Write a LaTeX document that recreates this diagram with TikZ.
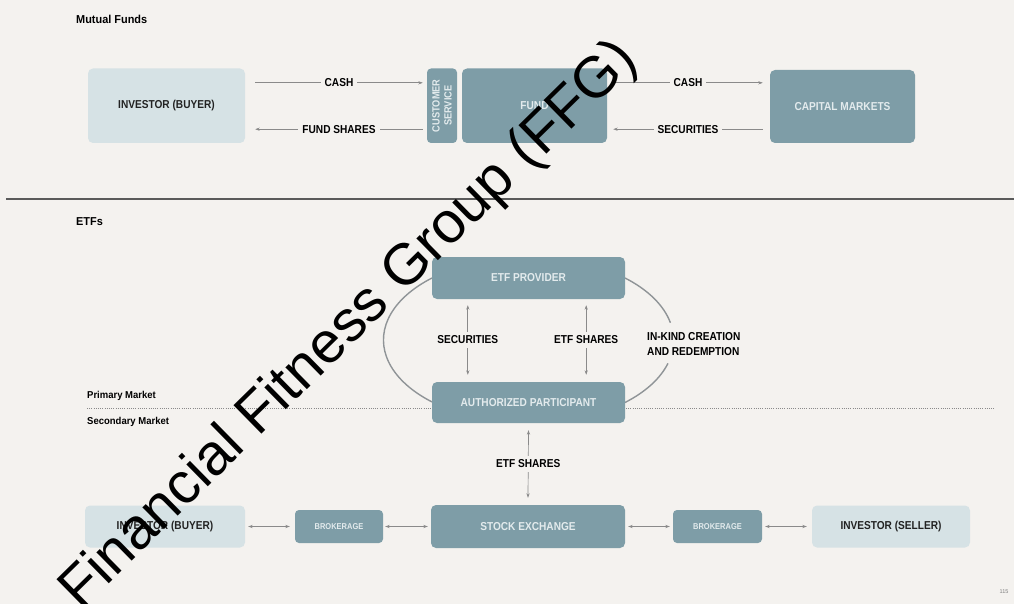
\documentclass[tikz,border=0pt]{standalone}
\usepackage{fontspec}
\setmainfont{Liberation Sans}
\newfontfamily\cf{Liberation Sans}[FakeStretch=0.88]
\newfontfamily\tf{Liberation Sans}[FakeStretch=0.95]
\newfontfamily\wmf{Liberation Sans}
\usetikzlibrary{arrows.meta,calc}
\definecolor{bg}{HTML}{F4F2EF}
\definecolor{darkbox}{HTML}{7E9DA7}
\definecolor{lightbox}{HTML}{D6E2E5}
\definecolor{dtext}{HTML}{E3EBED}
\definecolor{ltext}{HTML}{222222}
\definecolor{arrc}{HTML}{8A8A8A}
\definecolor{arcc}{HTML}{8F9497}
\definecolor{sepc}{HTML}{5A5A5A}
\tikzset{
  box/.style={rounded corners=5pt, inner sep=0pt, align=center, font=\cf\bfseries\fontsize{11.5}{13}\selectfont},
  dbox/.style={box, fill=darkbox, text=dtext},
  lbox/.style={box, fill=lightbox, text=ltext},
  arr/.style={draw=arrc, line width=0.7pt, -{Stealth[length=4.5pt,width=3.2pt]}},
  darr/.style={draw=arrc, line width=0.7pt, {Stealth[length=4.5pt,width=3.2pt]}-{Stealth[length=4.5pt,width=3.2pt]}},
  lbl/.style={fill=bg, inner xsep=4pt, inner ysep=4pt, text=black, font=\cf\bfseries\fontsize{11.5}{13}\selectfont},
  arcl/.style={draw=arcc, line width=1.4pt},
  ttl/.style={anchor=west, inner sep=0pt, text=black, font=\tf\bfseries\fontsize{11.5}{13}\selectfont},
  mkt/.style={anchor=west, inner sep=0pt, text=black, font=\tf\bfseries\fontsize{10}{12}\selectfont}
}
\begin{document}
\begin{tikzpicture}[x=1pt,y=-1pt]
\fill[bg] (0,0) rectangle (1014,604);
\useasboundingbox (0,0) rectangle (1014,604);

% titles
\node[ttl] (mf) at (76,19) {Mutual Funds};
\node[ttl] (etfs) at (76,222) {ETFs};
\draw[line width=2pt, sepc] (6,199) -- (1014,199);

% Mutual funds row
\node[lbox, minimum width=157pt, minimum height=74.5pt] (inv) at (166.5,105.75) {INVESTOR (BUYER)};
\node[dbox, minimum width=30pt, minimum height=74.5pt, rounded corners=4pt] (cs) at (442,105.75) {};
\node[rotate=90, text=dtext, align=center, inner sep=0pt, font=\cf\bfseries\fontsize{10.5}{12}\selectfont] (cst) at (cs.center) {CUSTOMER\\SERVICE};
\node[dbox, minimum width=145pt, minimum height=74.5pt] (fund) at (534.5,105.75) {FUND};
\node[dbox, minimum width=145pt, minimum height=73pt] (cap) at (842.5,106.5) {CAPITAL MARKETS};

\draw[arr] ([xshift=10pt,yshift=-14.5pt]inv.north east) -- node[lbl]{CASH} ([xshift=-4pt,yshift=-14.5pt]cs.north west);
\draw[arr] ([xshift=-4pt,yshift=14pt]cs.south west) -- node[lbl]{FUND SHARES} ([xshift=10pt,yshift=14pt]inv.south east);
\draw[arr] ([xshift=6pt,yshift=-14.5pt]fund.north east) -- node[lbl]{CASH} ([xshift=-7pt,yshift=-13pt]cap.north west);
\draw[arr] ([xshift=-7pt,yshift=14pt]cap.south west) -- node[lbl]{SECURITIES} ([xshift=6pt,yshift=14pt]fund.south east);

% ETF section
\draw[line width=0.9pt, draw=arrc, dash pattern=on 0.9pt off 1.3pt] (87,408) -- (995,408);
\node[mkt] (pm) at (87,396) {Primary Market};
\node[mkt] (sm) at (87,421.5) {Secondary Market};

\coordinate (etfw) at (432,278);
\coordinate (etfe) at (625,278);
\coordinate (ape) at (625,402.5);
\draw[arcl] (etfw) arc[start angle=131.7, end angle=228.3, x radius=145pt, y radius=83pt];
\draw[arcl] (etfe) arc[start angle=48.3, end angle=12, x radius=145pt, y radius=83pt];
\draw[arcl] (ape) arc[start angle=-48.3, end angle=-16, x radius=145pt, y radius=83pt];

\node[dbox, minimum width=193pt, minimum height=42pt] (etf) at (528.5,278) {ETF PROVIDER};
\node[dbox, minimum width=193pt, minimum height=41pt] (ap) at (528.5,402.5) {AUTHORIZED PARTICIPANT};

\draw[darr] ([xshift=36pt,yshift=-6pt]etf.south west) -- node[lbl]{SECURITIES} ([xshift=36pt,yshift=7pt]ap.north west);
\draw[darr] ([xshift=-39pt,yshift=-6pt]etf.south east) -- node[lbl]{ETF SHARES} ([xshift=-39pt,yshift=7pt]ap.north east);
\node[anchor=west, align=left, inner sep=0pt, text=black, font=\cf\bfseries\fontsize{11.5}{15}\selectfont] (ik) at (647,344.5) {IN-KIND CREATION\\AND REDEMPTION};

% bottom row
\node[lbox, minimum width=160pt, minimum height=42pt] (binv) at (165,526.5) {INVESTOR (BUYER)};
\node[dbox, minimum width=88pt, minimum height=33pt, rounded corners=4pt, font=\cf\bfseries\fontsize{8.5}{10}\selectfont] (b1) at (339,526.5) {BROKERAGE};
\node[dbox, minimum width=194pt, minimum height=43pt] (se) at (528,526.5) {STOCK EXCHANGE};
\node[dbox, minimum width=89pt, minimum height=33pt, rounded corners=4pt, font=\cf\bfseries\fontsize{8.5}{10}\selectfont] (b2) at (717.5,526.5) {BROKERAGE};
\node[lbox, minimum width=158pt, minimum height=42pt] (sinv) at (891,526.5) {INVESTOR (SELLER)};

\draw[darr] ([yshift=-7pt]ap.south) -- node[lbl]{ETF SHARES} ([yshift=7pt]se.north);
\draw[darr] ([xshift=3pt]binv.east) -- ([xshift=-5pt]b1.west);
\draw[darr] ([xshift=2pt]b1.east) -- ([xshift=-3pt]se.west);
\draw[darr] ([xshift=3pt]se.east) -- ([xshift=-3pt]b2.west);
\draw[darr] ([xshift=3pt]b2.east) -- ([xshift=-5pt]sinv.west);

\node[text=gray, inner sep=0pt, font=\fontsize{5.5}{6}\selectfont] (pg) at (1004,592) {115};

% watermark
\node[rotate=44.5, inner sep=0pt, text=black, font=\wmf\fontsize{58}{58}\selectfont] (wm) at (350,326) {Financial Fitness Group (FFG)};
\end{tikzpicture}
\end{document}
